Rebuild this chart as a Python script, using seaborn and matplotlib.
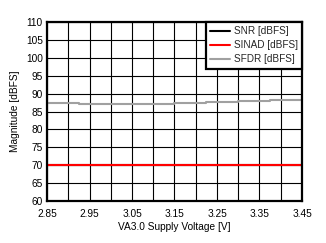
import matplotlib
matplotlib.use("Agg")
import matplotlib.pyplot as plt
import seaborn as sns
import numpy as np
import pandas as pd

voltage = [2.85, 2.925, 3.0, 3.075, 3.15, 3.225, 3.3, 3.375, 3.45]
snr = [70.0, 70.0, 70.0, 70.0, 70.0, 70.0, 70.0, 70.0, 70.0]
sinad = [70.0, 70.0, 70.0, 70.0, 70.0, 70.0, 70.0, 70.0, 70.0]
sfdr = [87.5, 87.1, 87.1, 87.1, 87.5, 87.7, 88.0, 88.3, 88.3]

x_ticks = [2.85, 2.95, 3.05, 3.15, 3.25, 3.35, 3.45]
y_ticks = list(range(60, 111, 5))

sns.set_theme(style="white")
plt.rcParams['font.family'] = ['Liberation Sans', 'DejaVu Sans']

df = pd.DataFrame({"V": voltage, "SNR [dBFS]": snr, "SINAD [dBFS]": sinad, "SFDR [dBFS]": sfdr})

fig = plt.figure(figsize=(3.26, 2.43), dpi=100)
ax = fig.add_axes([47/326, 1 - 201/243, 255/326, 179/243])

sns.lineplot(data=df, x="V", y="SNR [dBFS]", ax=ax, color="black", linewidth=1.5, label="SNR [dBFS]", drawstyle="steps-post")
sns.lineplot(data=df, x="V", y="SINAD [dBFS]", ax=ax, color="#ff0000", linewidth=1.5, label="SINAD [dBFS]", drawstyle="steps-post")
sns.lineplot(data=df, x="V", y="SFDR [dBFS]", ax=ax, color="#a0a0a0", linewidth=1.5, label="SFDR [dBFS]", drawstyle="steps-post")

ax.set_xlim(2.85, 3.45)
ax.set_ylim(60, 110)
ax.set_xticks(x_ticks)
ax.set_xticklabels([f"{v:.2f}" for v in x_ticks])
ax.set_xticks(np.arange(2.85, 3.4501, 0.05), minor=True)
ax.set_yticks(y_ticks)
ax.grid(True, which="both", color="black", linewidth=0.8)
ax.tick_params(axis="both", which="both", length=0, labelsize=7.3, colors="black")
ax.tick_params(axis="x", pad=6)
ax.tick_params(axis="y", pad=3)
for s in ax.spines.values():
    s.set_color("black")
    s.set_linewidth(1.6)
ax.set_xlabel("VA3.0 Supply Voltage [V]", fontsize=7.3, color="black", labelpad=2)
ax.set_ylabel("Magnitude [dBFS]", fontsize=7.3, color="black", labelpad=4)

leg = ax.legend(loc="upper right", fontsize=7.2, frameon=True, fancybox=False,
                borderaxespad=0, handlelength=2.0, handletextpad=0.35,
                borderpad=0.45, labelspacing=0.4)
leg.get_frame().set_edgecolor("black")
leg.get_frame().set_linewidth(1.6)
leg.get_frame().set_facecolor("white")
leg.get_frame().set_alpha(1)

fig.savefig("out.png", dpi=100)
